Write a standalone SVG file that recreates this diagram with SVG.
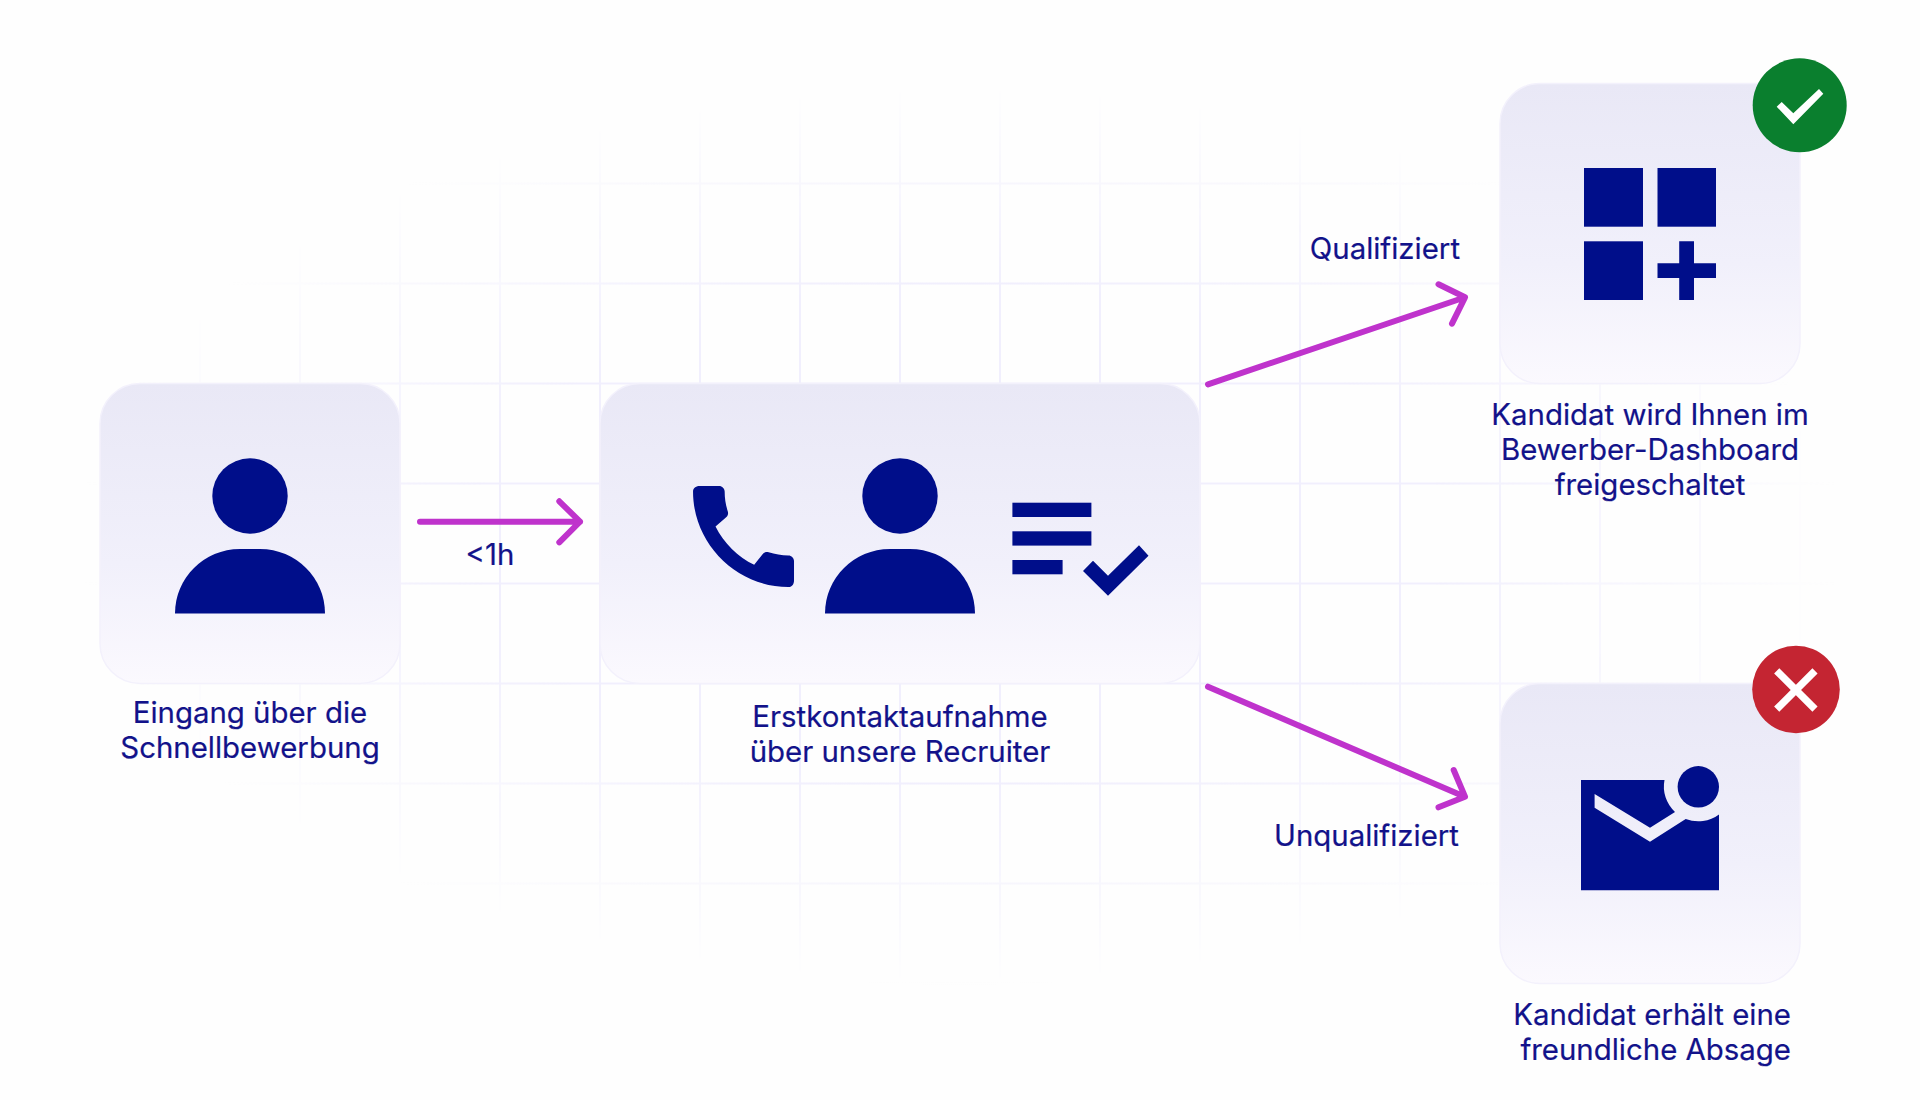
<svg xmlns="http://www.w3.org/2000/svg" width="1920" height="1100" viewBox="0 0 1920 1100">
<style>
.lbl{font-family:"Inter","Liberation Sans",sans-serif;font-size:29.4px;font-weight:400;fill:#12128a;stroke:#12128a;stroke-width:.2;text-anchor:middle}
.end{text-anchor:end}
.card{fill:url(#card);stroke:#f3f1fc;stroke-width:1.5}
.icon{fill:#000e8a}
.arrow{fill:none;stroke:#bf33cc;stroke-width:6;stroke-linecap:round;stroke-linejoin:round}
.grid line{stroke:#f1effd;stroke-width:2}
</style>
<defs>
<linearGradient id="card" x1="0" y1="0" x2="0" y2="1"><stop offset="0" stop-color="#e9e8f6"/><stop offset="0.6" stop-color="#f1f0fb"/><stop offset="1" stop-color="#fbf9fe"/></linearGradient>
<radialGradient id="fade" gradientUnits="userSpaceOnUse" cx="960" cy="535" r="1" gradientTransform="translate(960 535) scale(880 450) translate(-960 -535)"><stop offset="0" stop-color="#fff"/><stop offset="0.55" stop-color="#fff"/><stop offset="1" stop-color="#000"/></radialGradient>
<mask id="gridmask" maskUnits="userSpaceOnUse" x="0" y="0" width="1920" height="1100"><rect width="1920" height="1100" fill="url(#fade)"/></mask>
<path id="person" d="M-75 117.5C-75 82-46 53-10 53H10C46 53 75 82 75 117.5Z"/>
</defs>
<rect width="1920" height="1100" fill="#fefefe"/>
<g class="grid" mask="url(#gridmask)">
<line x1="100" y1="0" x2="100" y2="1100"/><line x1="200" y1="0" x2="200" y2="1100"/><line x1="300" y1="0" x2="300" y2="1100"/><line x1="400" y1="0" x2="400" y2="1100"/><line x1="500" y1="0" x2="500" y2="1100"/><line x1="600" y1="0" x2="600" y2="1100"/><line x1="700" y1="0" x2="700" y2="1100"/><line x1="800" y1="0" x2="800" y2="1100"/><line x1="900" y1="0" x2="900" y2="1100"/><line x1="1000" y1="0" x2="1000" y2="1100"/><line x1="1100" y1="0" x2="1100" y2="1100"/><line x1="1200" y1="0" x2="1200" y2="1100"/><line x1="1300" y1="0" x2="1300" y2="1100"/><line x1="1400" y1="0" x2="1400" y2="1100"/><line x1="1500" y1="0" x2="1500" y2="1100"/><line x1="1600" y1="0" x2="1600" y2="1100"/><line x1="1700" y1="0" x2="1700" y2="1100"/><line x1="1800" y1="0" x2="1800" y2="1100"/>
<line x1="0" y1="83.5" x2="1920" y2="83.5"/><line x1="0" y1="183.5" x2="1920" y2="183.5"/><line x1="0" y1="283.5" x2="1920" y2="283.5"/><line x1="0" y1="383.5" x2="1920" y2="383.5"/><line x1="0" y1="483.5" x2="1920" y2="483.5"/><line x1="0" y1="583.5" x2="1920" y2="583.5"/><line x1="0" y1="683.5" x2="1920" y2="683.5"/><line x1="0" y1="783.5" x2="1920" y2="783.5"/><line x1="0" y1="883.5" x2="1920" y2="883.5"/><line x1="0" y1="983.5" x2="1920" y2="983.5"/>
</g>
<g id="connectors">
<path class="arrow" d="M420 521.7H580M559.3 501.3L580 521.7L559.3 542.3"/>
<path class="arrow" d="M1208 384.3L1463 298M1438.5 284.3L1465 297.3L1452 323.7"/>
<path class="arrow" d="M1208 686.7L1463 796M1453.7 770L1465 796.7L1438.5 807.3"/>
<text class="lbl" x="490" y="564.5">&lt;1h</text>
<text class="lbl end" x="1460" y="258.5">Qualifiziert</text>
<text class="lbl end" x="1459" y="845.5">Unqualifiziert</text>
</g>
<g id="node-eingang">
<rect class="card" x="100" y="383.5" width="300" height="300" rx="40"/>
<g class="icon" transform="translate(250 496)"><circle r="37.7"/><use href="#person"/></g>
<text class="lbl" x="250" y="722.5">Eingang über die</text>
<text class="lbl" x="250" y="757.5">Schnellbewerbung</text>
</g>
<g id="node-erstkontakt">
<rect class="card" x="600" y="383.5" width="600" height="300" rx="40"/>
<g class="icon" transform="translate(900 496)"><circle r="37.7"/><use href="#person"/></g>
<path class="icon" transform="translate(676.2 469.2) scale(5.61)" d="M20.01 15.38c-1.23 0-2.42-.2-3.53-.56-.35-.12-.74-.03-1.01.24l-1.57 1.97c-2.83-1.35-5.48-3.9-6.89-6.83l1.95-1.66c.27-.28.35-.67.24-1.02-.37-1.11-.56-2.3-.56-3.53 0-.54-.45-.99-.99-.99H4.19C3.65 3 3 3.24 3 3.99 3 13.28 10.73 21 20.01 21c.71 0 .99-.63.99-1.18v-3.45c0-.54-.45-.99-.99-.99z"/>
<rect class="icon" x="1012.4" y="502.7" width="79" height="14.3"/>
<rect class="icon" x="1012.4" y="531.3" width="79" height="14.3"/>
<rect class="icon" x="1012.4" y="560" width="50.2" height="14.3"/>
<path class="icon" d="M1083 571L1093 560.7L1108 575.7L1139 545.3L1148.5 555.7L1108 595.7Z"/>
<text class="lbl" x="900" y="726.5">Erstkontaktaufnahme</text>
<text class="lbl" x="900" y="761.5">über unsere Recruiter</text>
</g>
<g id="node-qualifiziert">
<rect class="card" x="1500" y="83.5" width="300" height="300" rx="40"/>
<rect class="icon" x="1584" y="168" width="59" height="58.7"/>
<rect class="icon" x="1657.5" y="168" width="58.5" height="58.7"/>
<rect class="icon" x="1584" y="241.3" width="59" height="58.7"/>
<path class="icon" d="M1679.2 241.3H1694V263.3H1716V278H1694V300H1679.2V278H1657.5V263.3H1679.2Z"/>
<text class="lbl" x="1650" y="424.5">Kandidat wird Ihnen im</text>
<text class="lbl" x="1650" y="459.5">Bewerber-Dashboard</text>
<text class="lbl" x="1650" y="494.5">freigeschaltet</text>
<circle cx="1799.7" cy="105.3" r="47" fill="#0a7f2e"/>
<path d="M1776.7 106.7L1781.7 102L1793.3 113.3L1819 89L1823.3 93.7L1793.3 124.3Z" fill="#fff"/>
</g>
<g id="node-unqualifiziert">
<rect class="card" x="1500" y="683.5" width="300" height="300" rx="40"/>
<path class="icon" d="M1581 780H1664.5A34.5 34.5 0 0 0 1675 812L1650 827.7L1594.6 794V807.7L1650 841.7L1685.7 819A34.5 34.5 0 0 0 1719 814.4V890.3H1581Z"/>
<circle class="icon" cx="1698.3" cy="786.8" r="20.7"/>
<text class="lbl end" x="1791" y="1024.5">Kandidat erhält eine</text>
<text class="lbl end" x="1791" y="1059.5">freundliche Absage</text>
<circle cx="1796" cy="689.5" r="43.8" fill="#c42532"/>
<path d="M1776.7 670.8L1815 709.2M1815 670.8L1776.7 709.2" fill="none" stroke="#fff" stroke-width="7.3"/>
</g>
</svg>
